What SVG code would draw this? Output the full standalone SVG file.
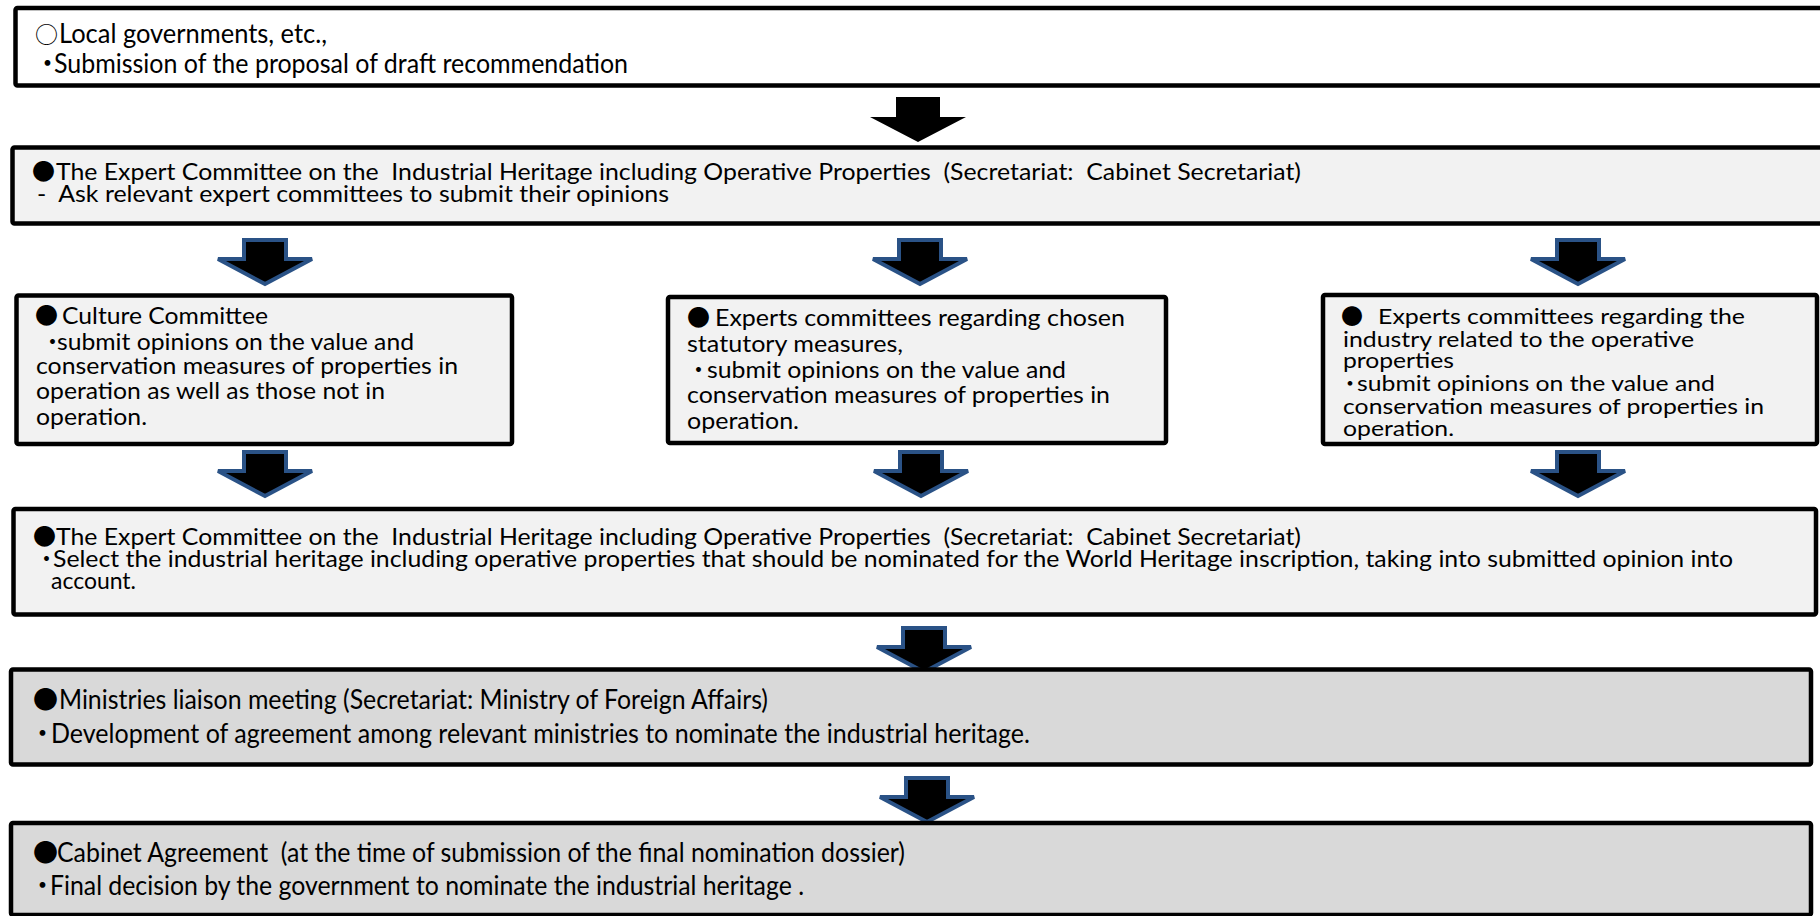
<svg xmlns="http://www.w3.org/2000/svg" xmlns:xlink="http://www.w3.org/1999/xlink" width="1820" height="916" viewBox="0 0 1820 916">
<style>
.box{stroke:#000;stroke-width:4.5}
.w{fill:#fff}.l{fill:#f2f2f2}.g{fill:#d9d9d9}
text{font-family:Lato,"Noto Sans CJK JP",sans-serif;fill:#000}
.s{font-family:"Noto Sans CJK JP",sans-serif}
.f27{font-size:27px}.f23{font-size:23px}.f22{font-size:22px}
</style>
<defs>
<path id="blue" d="M-21,0H21V19H47L0,44L-47,19H-21Z" fill="#000" stroke="#2a5286" stroke-width="4" stroke-linejoin="miter"/>
<path id="black" d="M-22,0H22V20H48L0,45L-48,20H-22Z" fill="#000"/>
</defs>
<g id="connectors">
<use xlink:href="#black" x="918" y="97"/>
<use xlink:href="#blue" x="265" y="240"/>
<use xlink:href="#blue" x="920" y="240"/>
<use xlink:href="#blue" x="1578" y="240"/>
<use xlink:href="#blue" x="265" y="452"/>
<use xlink:href="#blue" x="921" y="452"/>
<use xlink:href="#blue" x="1578" y="452"/>
<use xlink:href="#blue" x="924" y="628"/>
<use xlink:href="#blue" x="927" y="778"/>
</g>
<g id="n1">
<rect class="box w" x="15.5" y="8" width="1820" height="77.5" rx="2"/>
<text class="f27" y="43" xml:space="preserve"><tspan class="s" x="35" font-size="23">○</tspan><tspan x="59" textLength="268" lengthAdjust="spacingAndGlyphs">Local governments, etc.,</tspan></text>
<text class="f27" y="73" xml:space="preserve"><tspan class="s" x="34">・</tspan><tspan x="54" textLength="574" lengthAdjust="spacingAndGlyphs">Submission of the proposal of draft recommendation</tspan></text>
</g>
<g id="n2">
<rect class="box l" x="12.5" y="147.5" width="1820" height="76" rx="2"/>
<text class="f23" y="180" xml:space="preserve"><tspan class="s" x="32">●</tspan><tspan x="56" textLength="1245" lengthAdjust="spacingAndGlyphs">The Expert Committee on the  Industrial Heritage including Operative Properties  (Secretariat:  Cabinet Secretariat)</tspan></text>
<text class="f23" y="202" xml:space="preserve" x="37" textLength="632" lengthAdjust="spacingAndGlyphs">-  Ask relevant expert committees to submit their opinions</text>
</g>
<g id="n3">
<rect class="box l" x="16.5" y="295.5" width="495.5" height="148.5" rx="2"/>
<text class="f23" y="324" xml:space="preserve"><tspan class="s" x="35">●</tspan><tspan x="62" textLength="206" lengthAdjust="spacingAndGlyphs">Culture Committee</tspan></text>
<text class="f23" y="350" xml:space="preserve"><tspan class="s" x="41">・</tspan><tspan x="57" textLength="357" lengthAdjust="spacingAndGlyphs">submit opinions on the value and</tspan></text>
<text class="f23" y="374" x="36" textLength="422" lengthAdjust="spacingAndGlyphs">conservation measures of properties in</text>
<text class="f23" y="399" x="36" textLength="349" lengthAdjust="spacingAndGlyphs">operation as well as those not in</text>
<text class="f23" y="425" x="36" textLength="111" lengthAdjust="spacingAndGlyphs">operation.</text>
</g>
<g id="n4">
<rect class="box l" x="668" y="297" width="498" height="146" rx="2"/>
<text class="f23" y="326" xml:space="preserve"><tspan class="s" x="687">●</tspan><tspan x="715" textLength="410" lengthAdjust="spacingAndGlyphs">Experts committees regarding chosen</tspan></text>
<text class="f23" y="352" x="687" textLength="216" lengthAdjust="spacingAndGlyphs">statutory measures,</text>
<text class="f23" y="378" xml:space="preserve"><tspan class="s" x="687">・</tspan><tspan x="707" textLength="359" lengthAdjust="spacingAndGlyphs">submit opinions on the value and</tspan></text>
<text class="f23" y="403" x="687" textLength="423" lengthAdjust="spacingAndGlyphs">conservation measures of properties in</text>
<text class="f23" y="429" x="687" textLength="112" lengthAdjust="spacingAndGlyphs">operation.</text>
</g>
<g id="n5">
<rect class="box l" x="1323" y="295" width="494" height="149" rx="2"/>
<text class="f22" y="324" xml:space="preserve"><tspan class="s" x="1341">●</tspan><tspan x="1378" textLength="367" lengthAdjust="spacingAndGlyphs">Experts committees regarding the</tspan></text>
<text class="f22" y="347" x="1343" textLength="351" lengthAdjust="spacingAndGlyphs">industry related to the operative</text>
<text class="f22" y="368" x="1343" textLength="111" lengthAdjust="spacingAndGlyphs">properties</text>
<text class="f22" y="391" xml:space="preserve"><tspan class="s" x="1339">・</tspan><tspan x="1357" textLength="358" lengthAdjust="spacingAndGlyphs">submit opinions on the value and</tspan></text>
<text class="f22" y="414" x="1343" textLength="421" lengthAdjust="spacingAndGlyphs">conservation measures of properties in</text>
<text class="f22" y="436" x="1343" textLength="111" lengthAdjust="spacingAndGlyphs">operation.</text>
</g>
<g id="n6">
<rect class="box l" x="13.5" y="509" width="1802.5" height="105.5" rx="2"/>
<text class="f23" y="545" xml:space="preserve"><tspan class="s" x="33">●</tspan><tspan x="56" textLength="1245" lengthAdjust="spacingAndGlyphs">The Expert Committee on the  Industrial Heritage including Operative Properties  (Secretariat:  Cabinet Secretariat)</tspan></text>
<text class="f23" y="567" xml:space="preserve"><tspan class="s" x="35">・</tspan><tspan x="53" textLength="1680" lengthAdjust="spacingAndGlyphs">Select the industrial heritage including operative properties that should be nominated for the World Heritage inscription, taking into submitted opinion into</tspan></text>
<text class="f23" y="589" x="51" textLength="85" lengthAdjust="spacingAndGlyphs">account.</text>
</g>
<g id="n7">
<rect class="box g" x="11" y="669.5" width="1800" height="95" rx="2"/>
<text class="f27" y="709" xml:space="preserve"><tspan class="s" x="33" font-size="25">●</tspan><tspan x="59" textLength="709" lengthAdjust="spacingAndGlyphs">Ministries liaison meeting (Secretariat: Ministry of Foreign Affairs)</tspan></text>
<text class="f27" y="743" xml:space="preserve"><tspan class="s" x="29">・</tspan><tspan x="51" textLength="979" lengthAdjust="spacingAndGlyphs">Development of agreement among relevant ministries to nominate the industrial heritage.</tspan></text>
</g>
<g id="n8">
<rect class="box g" x="11" y="823" width="1800" height="92" rx="2"/>
<text class="f27" y="862" xml:space="preserve"><tspan class="s" x="33" font-size="25">●</tspan><tspan x="57" textLength="848" lengthAdjust="spacingAndGlyphs">Cabinet Agreement  (at the time of submission of the final nomination dossier)</tspan></text>
<text class="f27" y="895" xml:space="preserve"><tspan class="s" x="29">・</tspan><tspan x="50" textLength="754" lengthAdjust="spacingAndGlyphs">Final decision by the government to nominate the industrial heritage .</tspan></text>
</g>
</svg>
